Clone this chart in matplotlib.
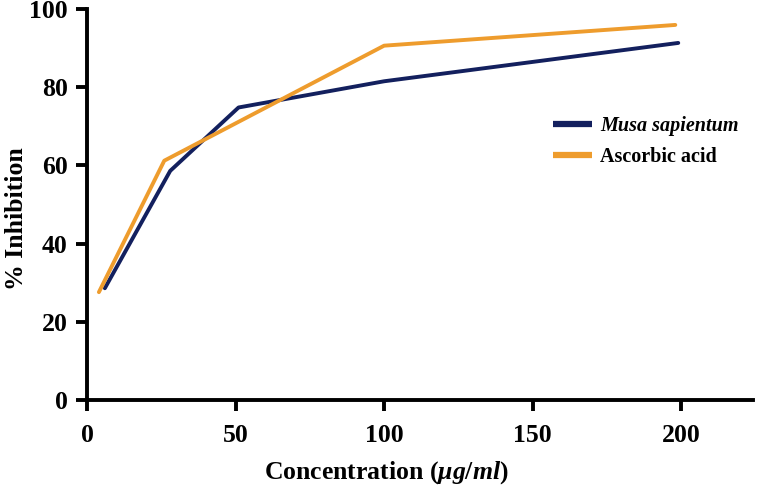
import matplotlib
matplotlib.use("Agg")
import matplotlib.pyplot as plt

# Data
musa_x = [6, 28, 51, 100, 199]
musa_y = [28.6, 58.6, 74.8, 81.5, 91.3]
asc_x = [4, 26, 100, 198]
asc_y = [27.6, 61.2, 90.6, 95.9]

x_ticks = [0, 50, 100, 150, 200]
y_ticks = [0, 20, 40, 60, 80, 100]

navy = "#13205e"
orange = "#ee9c2d"

plt.rcParams['font.family'] = ['Liberation Serif', 'DejaVu Serif']
plt.rcParams['mathtext.fontset'] = 'custom'
plt.rcParams['mathtext.it'] = 'Liberation Serif:italic:bold'
plt.rcParams['mathtext.rm'] = 'Liberation Serif:bold'

fig = plt.figure(figsize=(7.58, 4.94), dpi=100)
ax = fig.add_axes([0.1148, 0.190, 0.878, 0.792])

ax.plot(musa_x, musa_y, color=navy, lw=2.8, label="Musa sapientum", solid_capstyle='round')
ax.plot(asc_x, asc_y, color=orange, lw=2.8, label="Ascorbic acid", solid_capstyle='round')

ax.set_xlim(0, 224)
ax.set_ylim(0, 100)
ax.set_xticks(x_ticks)
ax.set_yticks(y_ticks)
ax.tick_params(axis='both', direction='out', length=8, width=2.8, labelsize=18.5)
ax.tick_params(axis='x', pad=9)
ax.tick_params(axis='y', pad=6)
for lbl in ax.get_xticklabels() + ax.get_yticklabels():
    lbl.set_fontweight('bold')

for s in ['top', 'right']:
    ax.spines[s].set_visible(False)
for s in ['left', 'bottom']:
    ax.spines[s].set_linewidth(2.8)

ax.set_xlabel(r"Concentration ($\mu g/ml$)", fontsize=18.5, fontweight='bold')
ax.xaxis.set_label_coords(0.45, -0.15)
ax.set_ylabel("% Inhibition", fontsize=18.5, fontweight='bold')
ax.yaxis.set_label_coords(-0.089, 0.463)

leg = ax.legend(loc='upper left', bbox_to_anchor=(0.673, 0.772), frameon=False,
                fontsize=14.5, handlelength=1.95, handletextpad=0.4, labelspacing=0.55)
for line in leg.get_lines():
    line.set_linewidth(4.5)
    line.set_solid_capstyle('butt')
texts = leg.get_texts()
texts[0].set_fontweight('bold')
texts[0].set_fontstyle('italic')
texts[1].set_fontweight('bold')

fig.savefig("out.png", dpi=100)
